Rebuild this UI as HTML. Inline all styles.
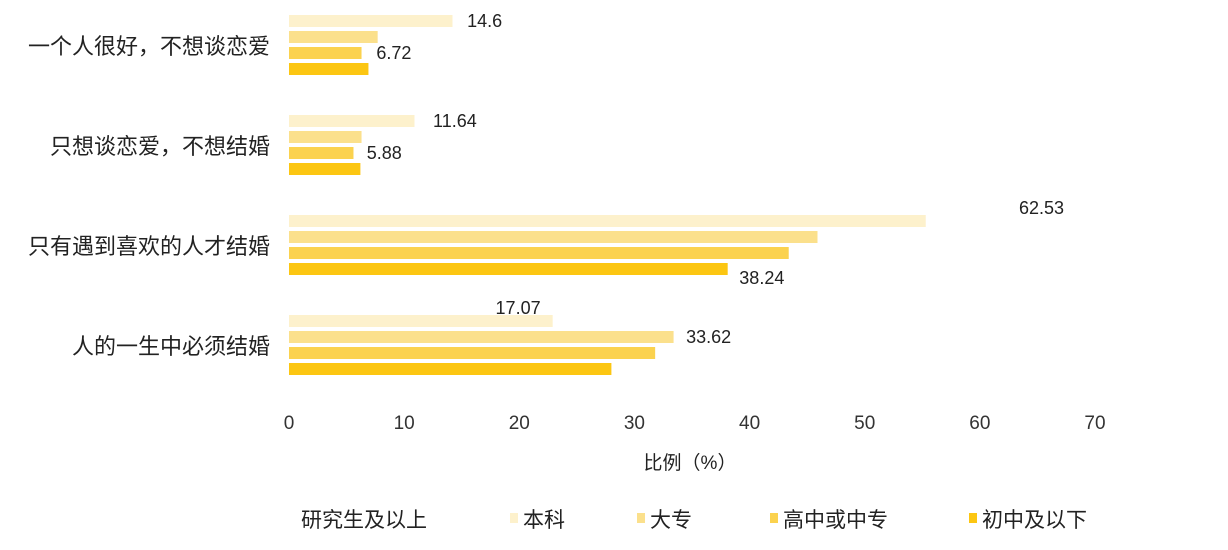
<!DOCTYPE html>
<html><head><meta charset="utf-8"><style>
body{margin:0;background:#fff;}
svg{display:block;font-family:"Liberation Sans","Noto Sans CJK SC",sans-serif;}
</style></head><body>
<svg id="chart" width="1228" height="550"></svg>
<script>
const categories=["一个人很好，不想谈恋爱","只想谈恋爱，不想结婚","只有遇到喜欢的人才结婚","人的一生中必须结婚"];
const seriesNames=["本科","大专","高中或中专","初中及以下"];
const s1=[14.2,10.9,55.3,22.9];
const s2=[7.7,6.3,45.9,33.4];
const s3=[6.3,5.6,43.4,31.8];
const s4=[6.9,6.2,38.1,28.0];
const labelValues=[[14.6,6.72],[11.64,5.88],[62.53,38.24],[17.07,33.62]];
const labelBars=[[0,2],[0,2],[-1,4],[-1,1]];
const ticks=[0,10,20,30,40,50,60,70];
const colors=["#fdf1cc","#fbe08c","#fbd24e","#fcc612"];
const series=[s1,s2,s3,s4];
const NS="http://www.w3.org/2000/svg";
const svg=document.getElementById("chart");
const x=v=>289+v*(1095-289)/70;
const groupTop=i=>15+i*100;
const barY=(i,j)=>groupTop(i)+j*16;
function mk(t,a,txt){const e=document.createElementNS(NS,t);for(const k in a)e.setAttribute(k,a[k]);if(txt!==undefined)e.textContent=txt;svg.appendChild(e);return e;}
categories.forEach((c,i)=>{
 const t=mk("text",{x:270,y:groupTop(i)+39,"text-anchor":"end","font-size":22,fill:"#222"},c);
 
 
 series.forEach((s,j)=>{
  const r=mk("rect",{x:x(0),y:barY(i,j),width:x(s[i])-x(0),height:12,fill:colors[j]});
  
  
 });
 labelValues[i].forEach((v,k)=>{
  const b=labelBars[i][k];
  const yy=b<0?groupTop(i)-1:(b>3?barY(i,3)+21:barY(i,b)+12);
  const l=mk("text",{x:x(v)+10,y:yy,"font-size":18,fill:"#222"},String(v));
  
  
 });
});
ticks.forEach(v=>{
 const t=mk("text",{x:x(v),y:429,"text-anchor":"middle","font-size":19,fill:"#333"},String(v));
 
 
});
const xt=mk("text",{x:690,y:469,"text-anchor":"middle","font-size":19,fill:"#222"},"比例（%）");


const lg=mk("text",{x:301,y:527,"font-size":21,fill:"#222"},"研究生及以上");


const lx=[523,650,783,982];
seriesNames.forEach((n,j)=>{
 const r=mk("rect",{x:lx[j]-13,y:513,width:8,height:10,fill:colors[j]});
 
 
 const t=mk("text",{x:lx[j],y:527,"font-size":21,fill:"#222"},n);
 
 
});
</script>
</body></html>
